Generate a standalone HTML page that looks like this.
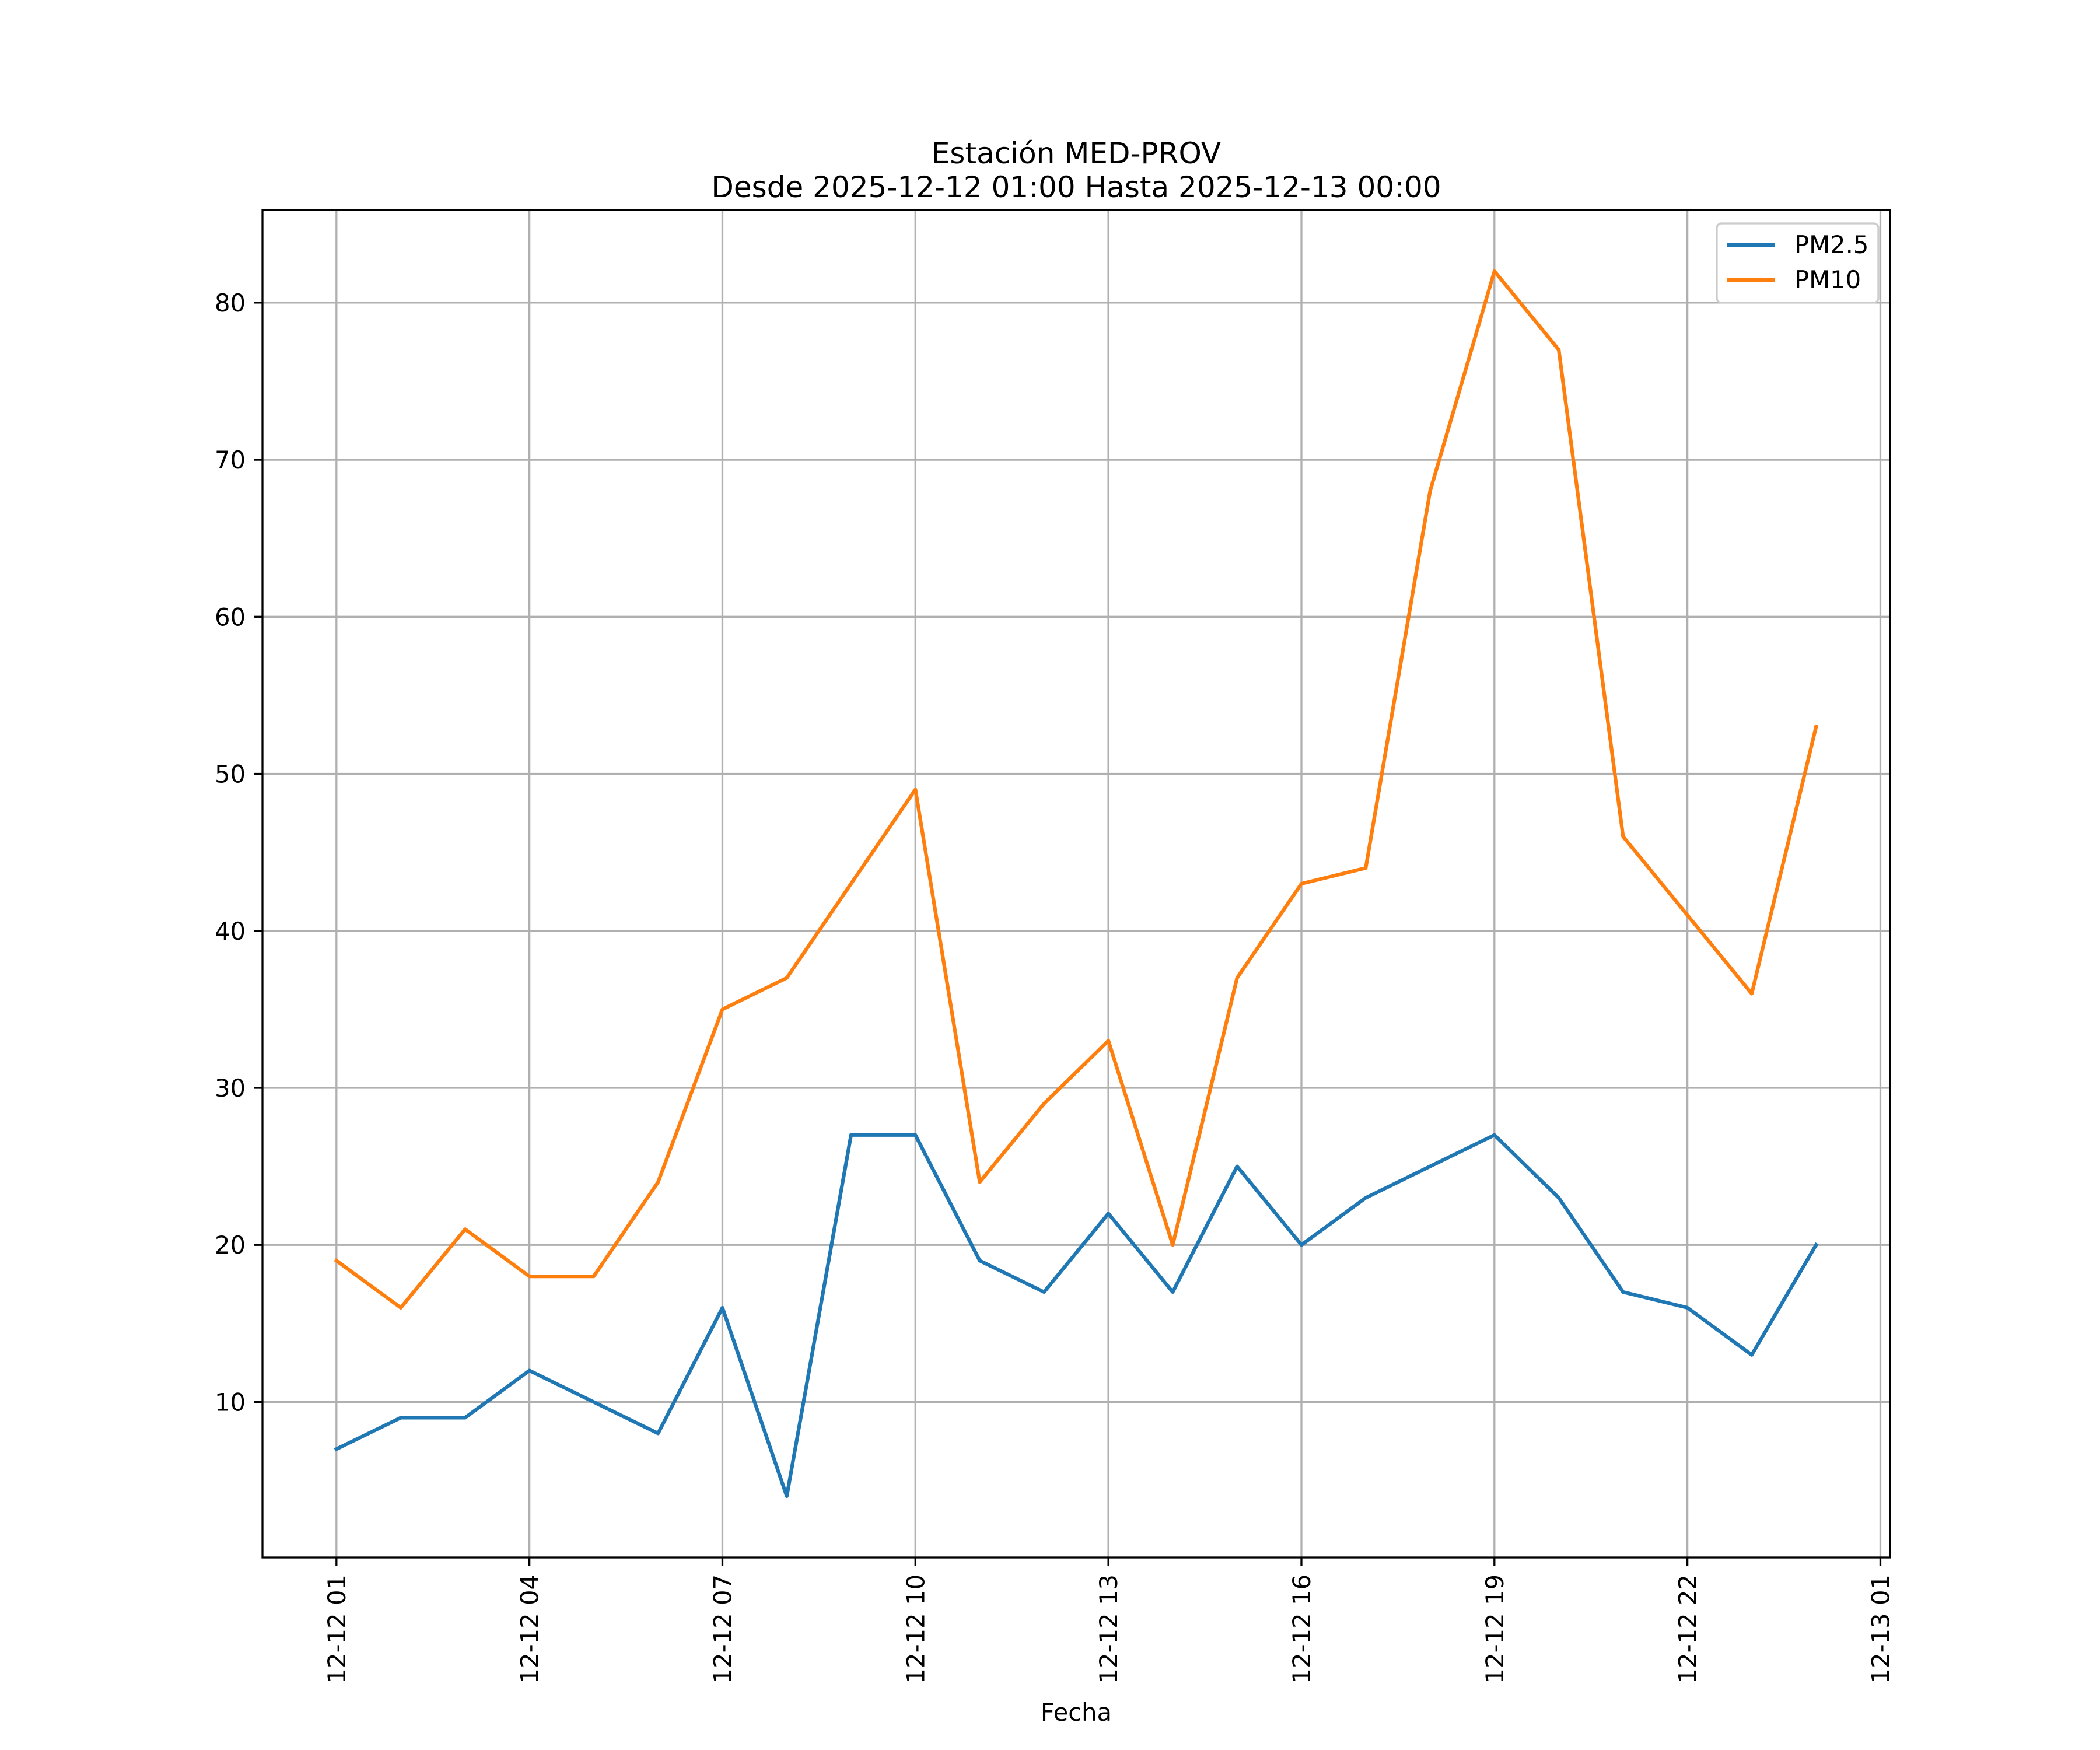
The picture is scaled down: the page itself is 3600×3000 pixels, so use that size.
<!DOCTYPE html>
<html><head><meta charset="utf-8"><style>
html,body{margin:0;padding:0;background:#fff;}
svg{display:block;font-family:"DejaVu Sans","Liberation Sans",sans-serif;}
</style></head><body>
<svg id="chart" width="3600" height="3000" viewBox="0 0 3600 3000">
<text x="1845" y="280" font-size="50" text-anchor="middle">Estación MED-PROV</text>
<text x="1845" y="338" font-size="50" text-anchor="middle">Desde 2025-12-12 01:00 Hasta 2025-12-13 00:00</text>
<g id="grid"></g>
<g id="series"></g>
<rect x="450" y="360" width="2790" height="2310" fill="none" stroke="#000" stroke-width="3.3"/>
<g id="ticks"></g>
<text x="1845" y="2950" font-size="41.7" text-anchor="middle">Fecha</text>
<g>
<rect x="2943" y="383" width="277" height="136" rx="8" fill="#fff" fill-opacity="0.8" stroke="#ccc" stroke-width="3.3"/>
<line x1="2960" y1="420" x2="3043" y2="420" stroke="#1f77b4" stroke-width="6.25"/>
<text x="3076" y="434" font-size="41.7">PM2.5</text>
<line x1="2960" y1="480" x2="3043" y2="480" stroke="#ff7f0e" stroke-width="6.25"/>
<text x="3076" y="494" font-size="41.7">PM10</text>
</g>
</svg>
<script>
const hours = [1,2,3,4,5,6,7,8,9,10,11,12,13,14,15,16,17,18,19,20,21,22,23,24];
const pm25 = [7,9,9,12,10,8,16,4,27,27,19,17,22,17,25,20,23,25,27,23,17,16,13,20];
const pm10 = [19,16,21,18,18,24,35,37,43,49,24,29,33,20,37,43,44,68,82,77,46,41,36,53];
const xTickHours = [1,4,7,10,13,16,19,22,25];
const xTickLabels = ["12-12 01","12-12 04","12-12 07","12-12 10","12-12 13","12-12 16","12-12 19","12-12 22","12-13 01"];
const yTicks = [10,20,30,40,50,60,70,80];

const NS="http://www.w3.org/2000/svg";
const L=450,R=3240,T=360,B=2670;
const xMin=1-1.15, xMax=24+1.15;
const yMin=0.1, yMax=85.9;
function xs(h){return L+(h-xMin)/(xMax-xMin)*(R-L);}
function ys(v){return B-(v-yMin)/(yMax-yMin)*(B-T);}
function mk(tag,attrs,parent){const e=document.createElementNS(NS,tag);for(const k in attrs)e.setAttribute(k,attrs[k]);parent.appendChild(e);return e;}
const grid=document.getElementById('grid'),ticks=document.getElementById('ticks'),series=document.getElementById('series');

xTickHours.forEach((h,i)=>{
  const x=xs(h);
  const g=mk('line',{x1:x,y1:T,x2:x,y2:B,stroke:'#b0b0b0','stroke-width':3.3},grid);
  
  
  const t=mk('line',{x1:x,y1:B,x2:x,y2:B+14.6,stroke:'#000','stroke-width':3.3},ticks);
  
  
  const lb=mk('text',{x:0,y:0,'font-size':41.7,'text-anchor':'end',transform:`translate(${x+15},${B+29}) rotate(-90)`},ticks);
  lb.textContent=xTickLabels[i];
  
  
});
yTicks.forEach(v=>{
  const y=ys(v);
  const g=mk('line',{x1:L,y1:y,x2:R,y2:y,stroke:'#b0b0b0','stroke-width':3.3},grid);
  
  
  const t=mk('line',{x1:L-14.6,y1:y,x2:L,y2:y,stroke:'#000','stroke-width':3.3},ticks);
  
  
  const lb=mk('text',{x:L-29,y:y+15,'font-size':41.7,'text-anchor':'end'},ticks);
  lb.textContent=String(v);
  
  
});
function drawLine(vals,color,name){
  const pts=vals.map((v,i)=>xs(hours[i]).toFixed(1)+','+ys(v).toFixed(1)).join(' ');
  const p=mk('polyline',{points:pts,fill:'none',stroke:color,'stroke-width':6.25,'stroke-linejoin':'round','stroke-linecap':'square'},series);
  
  
}
drawLine(pm25,'#1f77b4','pm25-line');
drawLine(pm10,'#ff7f0e','pm10-line');
</script>
</body></html>
